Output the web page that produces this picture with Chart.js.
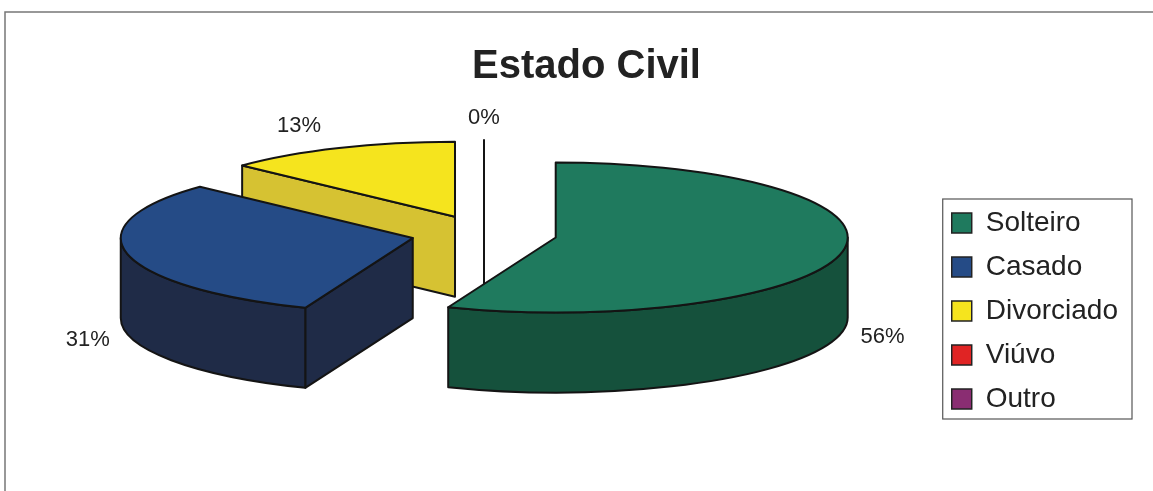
<!DOCTYPE html>
<html><head><meta charset="utf-8">
<script src="https://cdn.jsdelivr.net/npm/chart.js@4.4.0/dist/chart.umd.min.js"></script>
<style>html,body{margin:0;padding:0;background:#fff;}#wrap{width:1153px;height:491px;position:relative;}</style>
</head><body><div id="wrap"><canvas id="c" width="1153" height="491"></canvas></div>
<script>
// ---- data ----
const categories = ['Solteiro', 'Casado', 'Divorciado', 'Viúvo', 'Outro'];
const values = [56, 31, 13, 0, 0];
const topColors = ['#1f7a5e', '#254b86', '#f5e41e', '#e02424', '#8a2d72'];
const sideColors = ['#15513c', '#1f2b47', '#d6c232', '#a01818', '#5e1f4e'];
const chartTitle = 'Estado Civil';

// ---- layout of the 3D pie (screen space) ----
const PIE = { cx: 484, cy: 234, rx: 292, ry: 75, depth: 80, explode: 0.25 };
const FONT = '"Liberation Sans", Arial, sans-serif';
const EDGE = '#141414';

const pie3d = {
  id: 'pie3d',
  beforeDatasetsDraw(chart) {
    const ctx = chart.ctx;
    const meta = chart.getDatasetMeta(0);
    const total = values.reduce((a, b) => a + b, 0);
    const D = PIE.depth;
    const items = meta.data.map((el, i) => {
      const p = el.getProps(['x', 'y', 'startAngle', 'endAngle', 'outerRadius'], true);
      const mid = (p.startAngle + p.endAngle) / 2;
      return {
        el, i, p, mid,
        cx: PIE.cx + PIE.explode * PIE.rx * Math.cos(mid),
        cy: PIE.cy + PIE.explode * PIE.ry * Math.sin(mid)
      };
    });
    const order = items.slice().sort((a, b) => a.cy - b.cy);
    const op = (it, a, dy) => [it.cx + PIE.rx * Math.cos(a), it.cy + PIE.ry * Math.sin(a) + (dy || 0)];
    ctx.save();
    ctx.lineJoin = 'round';
    ctx.lineWidth = 2;
    ctx.strokeStyle = EDGE;
    const quad = (it, a) => {
      const o = op(it, a);
      ctx.beginPath();
      ctx.moveTo(it.cx, it.cy);
      ctx.lineTo(o[0], o[1]);
      ctx.lineTo(o[0], o[1] + D);
      ctx.lineTo(it.cx, it.cy + D);
      ctx.closePath();
      ctx.fillStyle = sideColors[it.i];
      ctx.fill();
      ctx.stroke();
    };
    order.forEach(it => {
      const s = it.p.startAngle, e = it.p.endAngle;
      if (e - s < 1e-6) { quad(it, s); return; }
      // radial faces
      if (Math.cos(s) < -0.01) quad(it, s);
      if (Math.cos(e) > 0.01) quad(it, e);
      // outer wall (front half)
      for (let k = -1; k <= 1; k++) {
        const lo = Math.max(s, 2 * Math.PI * k), hi = Math.min(e, Math.PI + 2 * Math.PI * k);
        if (hi > lo + 1e-6) {
          ctx.beginPath();
          ctx.ellipse(it.cx, it.cy, PIE.rx, PIE.ry, 0, lo, hi, false);
          const h = op(it, hi, D);
          ctx.lineTo(h[0], h[1]);
          ctx.ellipse(it.cx, it.cy + D, PIE.rx, PIE.ry, 0, hi, lo, true);
          ctx.closePath();
          ctx.fillStyle = sideColors[it.i];
          ctx.fill();
          ctx.stroke();
        }
      }
      // top face filled by the arc element itself, flattened
      const sX = PIE.rx / it.p.outerRadius, sY = PIE.ry / it.p.outerRadius;
      ctx.save();
      ctx.translate(it.cx, it.cy);
      ctx.scale(sX, sY);
      ctx.translate(-it.p.x, -it.p.y);
      it.el.draw(ctx);
      ctx.restore();
      const o = op(it, s);
      ctx.beginPath();
      ctx.moveTo(it.cx, it.cy);
      ctx.lineTo(o[0], o[1]);
      ctx.ellipse(it.cx, it.cy, PIE.rx, PIE.ry, 0, s, e, false);
      ctx.closePath();
      ctx.stroke();
    });
    // percentage labels
    ctx.fillStyle = '#222';
    ctx.font = '22px ' + FONT;
    ctx.textAlign = 'center';
    ctx.textBaseline = 'middle';
    const seen = new Set();
    items.forEach(it => {
      const c = Math.cos(it.mid), sn = Math.sin(it.mid);
      const x = it.cx + PIE.rx * c + (Math.abs(c) < 0.05 ? 0 : Math.sign(c) * 40);
      const y = it.cy + PIE.ry * sn + (sn > 0.05 ? D + 5 : -22);
      const key = Math.round(x) + ',' + Math.round(y);
      if (seen.has(key)) return;
      seen.add(key);
      ctx.fillText(Math.round(values[it.i] / total * 100) + '%', x, y);
    });
    ctx.restore();
    return false;
  }
};

const frame = {
  id: 'frame',
  beforeDraw(chart) {
    const ctx = chart.ctx;
    ctx.save();
    ctx.fillStyle = '#fff';
    ctx.fillRect(0, 0, chart.width, chart.height);
    ctx.restore();
  },
  afterDraw(chart) {
    const ctx = chart.ctx;
    ctx.save();
    ctx.strokeStyle = '#777';
    ctx.lineWidth = 1.5;
    ctx.beginPath();
    ctx.moveTo(5, 491);
    ctx.lineTo(5, 12);
    ctx.lineTo(1153, 12);
    ctx.stroke();
    const hb = chart.legend.legendHitBoxes;
    if (hb && hb.length) {
      const l = Math.min(...hb.map(h => h.left)) - 9;
      const t = Math.min(...hb.map(h => h.top)) - 10;
      const r = Math.max(...hb.map(h => h.left + h.width)) + 14;
      const b = Math.max(...hb.map(h => h.top + h.height)) + 6;
      ctx.strokeStyle = '#555';
      ctx.lineWidth = 1.2;
      ctx.strokeRect(l, t, r - l, b - t);
    }
    ctx.restore();
  }
};

new Chart(document.getElementById('c'), {
  type: 'pie',
  data: {
    labels: categories,
    datasets: [{ data: values, backgroundColor: topColors, borderWidth: 0 }]
  },
  options: {
    responsive: false,
    animation: false,
    events: [],
    layout: { padding: { top: 12, left: 45, right: 25, bottom: 62 } },
    plugins: {
      tooltip: { enabled: false },
      title: {
        display: true, text: chartTitle, color: '#222',
        font: { size: 40, weight: 'bold', family: FONT },
        padding: { top: 31, bottom: 10 }
      },
      legend: {
        position: 'right', align: 'end', fullSize: false,
        onClick: null,
        labels: {
          color: '#222', boxWidth: 20, boxHeight: 20, padding: 16,
          font: { size: 28, family: FONT },
          generateLabels(chart) {
            const items = Chart.overrides.doughnut.plugins.legend.labels.generateLabels(chart);
            items.forEach(it => { it.lineWidth = 1.5; it.strokeStyle = '#222'; });
            return items;
          }
        }
      }
    }
  },
  plugins: [frame, pie3d]
});
</script></body></html>
